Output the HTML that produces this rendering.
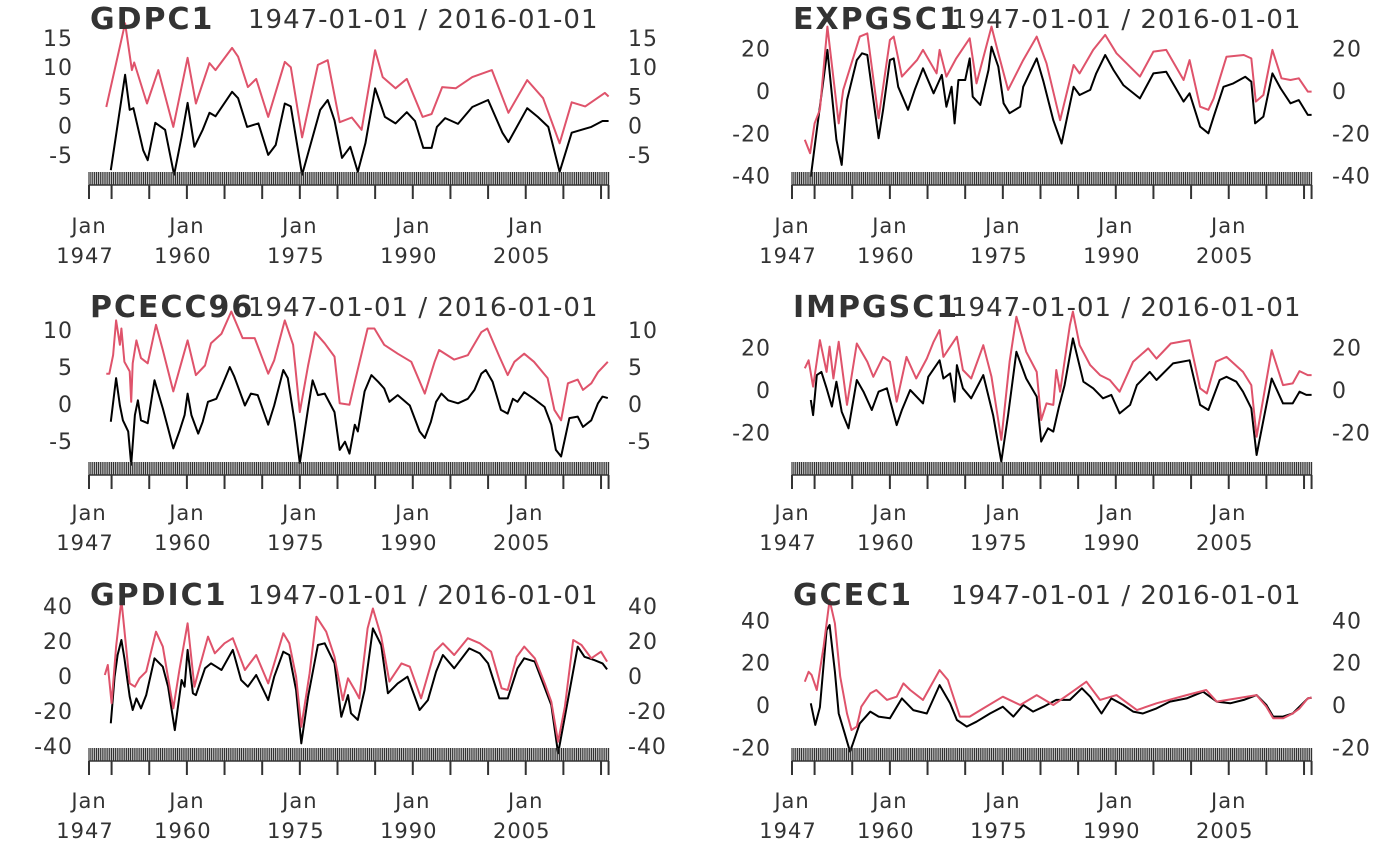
<!DOCTYPE html>
<html><head><meta charset="utf-8">
<style>
html,body{margin:0;padding:0;background:#fff;}
svg{display:block;font-family:"DejaVu Sans","Liberation Sans",sans-serif;}
</style></head>
<body>
<svg id="chart" width="1400" height="865" viewBox="0 0 1400 865" xmlns="http://www.w3.org/2000/svg"></svg>
<script>
// ---- data (year, value) per series ----
const gdpBlackYears=[1949.9,1951.8,1952.4,1952.9,1954.2,1954.8,1955.8,1957.1,1958.3,1959.3,1960.1,1961,1962.1,1963,1963.8,1966,1966.8,1968,1969.5,1970.8,1971.8,1973,1973.8,1975.3,1976.4,1977.7,1978.7,1979.6,1980.6,1981.7,1982.7,1983.7,1985,1986.3,1987.7,1989.2,1990.3,1991.4,1992.5,1993.2,1994.3,1996,1997.9,2000,2001.9,2002.7,2005.2,2006.6,2008,2009.5,2011.1,2013.7,2015.2,2016];
const gdpBlackVals=[-7.6,8.7,2.7,3,-4.2,-5.9,0.5,-0.7,-8.4,-1.9,3.9,-3.6,-0.7,2.2,1.6,5.8,4.7,-0.2,0.4,-5,-3.3,3.8,3.3,-8.4,-3.3,2.7,4.4,0.9,-5.5,-3.6,-7.9,-3,6.4,1.5,0.4,2.3,0.8,-3.8,-3.8,-0.2,1.3,0.3,3.2,4.4,-1.2,-2.8,3,1.5,-0.2,-7.9,-1.2,-0.2,0.8,0.8];
const gdpRedYears=[1949.3,1951.8,1952.7,1953,1954.7,1956.2,1958.2,1960.1,1961.2,1963,1963.8,1966,1966.8,1968.1,1969.2,1970.8,1973,1973.8,1975.3,1977.4,1978.7,1980.3,1981.9,1983.2,1985,1986,1987.7,1989.2,1991.3,1992.5,1993.9,1995.7,1997.9,2000.5,2002.7,2005.2,2007.3,2009.5,2011.1,2012.9,2015.5,2016];
const gdpRedVals=[3.2,17.5,9.5,10.8,3.8,9.5,-0.2,11.6,3.8,10.7,9.5,13.3,11.8,6.6,8,1.5,10.9,10,-2,10.4,11.2,0.6,1.4,-0.7,12.9,8.3,6.4,8,1.5,2,6.6,6.4,8.3,9.5,2.2,7.8,4.7,-3,4,3.3,5.6,5];

const expBlackYears=[1949.5,1950.3,1951.7,1952.9,1953.6,1954.3,1955.6,1956.3,1957,1958.5,1959.1,1960,1960.5,1961.1,1962.4,1963.3,1964.4,1965.8,1966.9,1967.5,1968.2,1968.6,1969.1,1970,1970.6,1971,1972,1973.1,1973.5,1974.4,1975.1,1975.9,1977.3,1977.7,1979.5,1980.4,1981.7,1982.8,1984.4,1985.2,1986.6,1987.4,1988.6,1989.7,1991,1993.2,1995,1996.7,1999,1999.8,2001.2,2002.3,2003,2004.3,2005.6,2007.2,2008,2008.5,2009.6,2010.8,2011.9,2013.2,2014.3,2015.5,2016];
const expBlackVals=[-40.5,-18.4,19.4,-23,-34.9,-4.3,14.6,17.8,17,-22.3,-8.9,14.6,15.4,2,-8.9,0.5,10.7,-1.1,7.6,-7.4,2,-15.3,5.2,5.2,15.4,-2.7,-6.6,9.9,20.9,11.5,-5.8,-10.5,-7.4,2,15.4,4.4,-13.8,-24.8,2,-1.9,0.5,8.3,17,9.9,2.8,-3.5,8.3,9.1,-5,-1.1,-16.8,-20,-12.1,2,3.6,6.7,4.4,-15.3,-12.1,8.3,1.2,-5.8,-4.3,-11.3,-11.3];
const expRedYears=[1948.7,1949.4,1950,1950.7,1951.7,1953.2,1953.8,1954.9,1956,1957,1958.5,1960,1960.5,1961.6,1963.6,1964.4,1966.2,1966.6,1967.5,1968.8,1970.6,1971.5,1973.5,1974.4,1975.7,1977.7,1979.5,1980.8,1982.6,1984.4,1985.2,1987,1988.6,1990.1,1993.2,1995,1996.7,1999,1999.8,2001.2,2002.3,2003,2004.7,2007,2008,2008.6,2009.6,2010.8,2012,2013.2,2014.3,2015.5,2016];
const expRedVals=[-23,-29.4,-15.3,-8.9,30.4,-15.3,0.5,13.1,25.7,27.2,-12.9,24.1,25.7,6.8,14.6,19.4,8.3,19.4,6.8,15.4,24.9,3.6,30.4,17.8,0.5,14.6,25.7,13.1,-13.8,12.3,8.3,19.4,26.5,17.8,6.8,18.6,19.4,5.2,14.6,-7.4,-8.9,-3.5,16.2,17,15.4,-5,-1.9,19.4,6,5.2,6,-0.3,-0.3];

const pceBlackYears=[1949.9,1950.6,1951.1,1951.5,1952.2,1952.6,1953.1,1953.5,1953.9,1954.8,1955.7,1956.8,1957.5,1958.2,1959,1959.7,1960.1,1960.6,1961.5,1962.1,1962.8,1963.9,1964.6,1965.7,1966.3,1967.7,1968.5,1969.4,1970.8,1971.6,1972.8,1973.4,1974.3,1975,1976.1,1976.7,1977.4,1978.3,1979.6,1980.3,1981,1981.6,1982.3,1982.7,1983.6,1984.5,1985.4,1986.2,1986.9,1988,1989.6,1990.9,1991.6,1992.4,1993.1,1993.8,1994.7,1996,1997.3,1998.2,1999.1,1999.7,2000.6,2001.7,2002.6,2003.3,2003.9,2004.8,2006.1,2007.5,2008.4,2009,2009.7,2010.8,2011.9,2012.6,2013.7,2014.6,2015.2,2015.9];
const pceBlackVals=[-2.4,3.5,-0.2,-2.2,-3.7,-8.2,-1.5,0.5,-2.2,-2.6,3.2,-0.6,-3.3,-6,-3.7,-1.5,1.4,-1.5,-4,-2.4,0.3,0.7,2.3,5,3.7,-0.2,1.4,1.2,-2.8,-0.2,4.6,3.5,-2.4,-8,-0.6,3.2,1.2,1.4,-1.1,-6.2,-5.1,-6.7,-2.8,-3.7,1.7,3.9,3,2.1,0.3,1.2,-0.2,-3.7,-4.6,-2.4,0.3,1.4,0.5,0.1,0.7,1.9,4.1,4.6,3,-0.8,-1.3,0.7,0.3,1.6,0.7,-0.4,-2.8,-6.2,-7.1,-1.9,-1.7,-3.1,-2.2,0.1,1,0.8];
const pceRedYears=[1949.3,1949.7,1950.2,1950.6,1951.1,1951.3,1951.7,1952.4,1952.6,1952.8,1953.3,1953.9,1954.8,1955.9,1956.8,1958.2,1959.3,1960.1,1961.2,1962.4,1963.2,1964.6,1965.9,1967.4,1969,1970.8,1971.6,1973,1974.1,1975,1976.1,1977,1978.3,1979.6,1980.3,1981.6,1982.3,1984,1984.9,1986.2,1988,1989.8,1991.6,1992.9,1993.5,1995.5,1997.3,1999.1,1999.9,2001.5,2002.6,2003.5,2004.8,2006.1,2007.9,2008.8,2009.7,2010.6,2011.9,2012.6,2013.7,2014.6,2015.9];
const pceRedVals=[4.1,4.1,6.6,11.3,8,10.2,5.7,4.4,0.3,5.5,8.6,6.2,5.5,10.7,7.3,1.7,5.7,8.6,3.9,5.2,8.2,9.5,12.5,8.9,8.9,4.1,5.9,11.3,8,-1.1,5.2,9.7,8.2,6.4,0.1,-0.1,3,10.2,10.2,8,6.8,5.7,1.4,5.7,7.3,6,6.6,9.7,10.2,6.4,3.9,5.7,6.8,5.7,3.5,-0.8,-2.2,2.8,3.3,1.9,2.8,4.3,5.7];

const impBlackYears=[1949.5,1949.8,1950.3,1950.9,1951.6,1952.3,1952.9,1953.6,1954.5,1955.6,1956.5,1957.6,1958.5,1959.6,1960.9,1961.6,1962.7,1964.4,1965.1,1966.6,1967.1,1968,1968.6,1968.9,1969.7,1970.8,1972.4,1973.7,1974.8,1975.7,1976.8,1978.1,1979.5,1980.1,1981,1981.7,1982.4,1983.2,1984.3,1985.7,1987,1988.3,1989.4,1990.5,1991.9,1992.8,1994.5,1995.4,1997.6,1999.8,2001.2,2002.3,2003.8,2004.7,2006,2006.9,2008,2008.7,2010,2010.7,2012.2,2013.5,2014.4,2015.3,2016];
const impBlackVals=[-4.7,-11.8,7,8.5,0.8,-7.8,3.9,-10.2,-18,4.7,-0.8,-9.4,-0.8,0.8,-16.5,-9.4,0,-6.3,6.2,14,5.4,7.8,-5.5,11.7,0.8,-3.9,7,-11.8,-33.7,-11.8,18,5.4,-3.1,-24.3,-18,-19.6,-8.6,2.3,24.3,3.9,0.8,-3.9,-2.3,-11,-7,2.3,8.5,4.7,12.5,14,-7,-9.4,4.7,6.2,3.9,-0.8,-8.6,-30.6,-7,5.4,-6.3,-6.3,-0.8,-2.3,-2.3];
const impRedYears=[1948.7,1949.2,1949.8,1950.7,1951.6,1952,1952.5,1953.2,1954.3,1955.6,1957,1957.8,1959.1,1960,1960.9,1962.2,1963.5,1964.9,1965.8,1966.6,1967.1,1968.9,1969.7,1970.8,1972.4,1973.5,1974.8,1975.9,1976.8,1978.1,1979.5,1980.1,1980.8,1981.7,1982.1,1982.6,1983.9,1984.3,1985.2,1986.6,1987.9,1989.2,1990.5,1992.3,1994.3,1995.4,1997.3,1999.8,2001.2,2002.1,2003.3,2004.7,2006.9,2008,2008.7,2010.7,2012.2,2013.5,2014.4,2015.5,2016];
const impRedVals=[10.2,14,1.6,23.5,8.5,20.4,5.4,22.7,-7,21.9,13.3,6.2,15.6,13.3,-5.5,15.6,5.4,14.8,22.7,28.2,15.6,25.1,9.4,5.4,21.1,6.2,-23.5,13.3,34.5,18,8.5,-14.1,-6.3,-7,9.4,-0.8,30.6,36.9,21.1,11.7,7,4.7,-0.8,13.3,19.6,14.8,21.9,23.5,0.8,-1.6,13.3,15.6,8.5,2.3,-22,18.8,2.3,3.1,8.9,7,7];

const gpdBlackYears=[1949.9,1950.4,1950.8,1951.3,1951.7,1952.4,1952.8,1953.3,1953.9,1954.6,1955.7,1956.8,1957.5,1958.4,1959.3,1959.7,1960.1,1960.8,1961.2,1962.4,1963.2,1963.9,1964.6,1966.1,1967.2,1968.1,1969.2,1970.8,1971.6,1972.8,1973.6,1974.5,1975.2,1976.1,1977.4,1978.3,1979.6,1980.5,1981.4,1981.8,1982.7,1983.6,1984.7,1985.8,1986.7,1988,1989.3,1990.9,1992,1993.1,1994,1995.5,1997.5,1998.9,2000,2001.5,2002.6,2003.9,2004.8,2006.2,2007.3,2008.4,2009.3,2010.6,2011.9,2012.8,2014.1,2015.2,2015.8];
const gpdBlackVals=[-27,-0.4,12,20.6,10.1,-11.8,-19.4,-12.8,-18.5,-10.9,10.1,5.3,-6.1,-30.9,-2.3,-6.1,14.9,-9.9,-10.9,4.4,7.2,5.3,3.4,14.9,-2.3,-6.1,0.6,-13.8,-0.4,13.9,12,-8,-38.5,-11.8,17.7,18.7,7.2,-23.3,-10.9,-21.3,-25.1,-8,27.2,17.7,-9.9,-4.2,-0.4,-19.4,-13.8,2.5,12,4.4,15.8,12.9,7.2,-12.8,-12.8,4.4,10.1,8.2,-4.2,-16.6,-44.2,-13.8,16.8,11,9.1,7.2,3.8];
const gpdRedYears=[1949.1,1949.5,1950,1950.6,1951.3,1951.7,1952.4,1953.1,1953.7,1954.6,1955.9,1956.8,1958.2,1959,1960.1,1961,1961.7,1962.8,1963.7,1965,1966.1,1967.7,1969.2,1970.8,1972.8,1973.6,1974.5,1975.2,1976.3,1977.2,1978.5,1979.6,1980.7,1981.4,1982.3,1982.9,1984,1984.7,1985.8,1986.9,1988.5,1989.6,1991.1,1992.9,1994,1995.5,1997.3,1998.9,2000.4,2001.8,2002.6,2003.8,2004.8,2006.2,2007.6,2008.4,2009.3,2010.2,2011.3,2012.4,2013.7,2015,2015.8];
const gpdRedVals=[0.6,6.3,-15.6,16.8,43.4,26.3,-4.2,-6.1,-1.3,2.5,25.3,16.8,-18.5,3.4,30.1,-6.1,5.3,22.5,13,18.7,21.6,3.4,12,-4.2,24.4,18.7,-0.4,-29,1.5,33.9,25.3,11,-13.8,-1.3,-8,-12.8,27.2,38.6,22.5,-3.2,7.2,5.3,-12.8,13.9,18.7,12,21.6,18.7,13.9,-7,-8,11,16.8,10.1,-5.1,-14.7,-37.6,-17.5,20.6,17.7,10.1,13.9,8.2];

const gceBlackYears=[1949.5,1950.1,1950.7,1951.6,1952,1952.7,1953.2,1954,1954.7,1955.1,1956,1957.4,1958.5,1960,1961.6,1963.1,1964.9,1966.6,1968,1968.9,1970.2,1971.5,1973.3,1975,1976.4,1977.7,1979,1980.4,1982.1,1983.9,1985.5,1986.6,1988.1,1989.4,1991,1992.3,1993.6,1995.4,1997.2,1999.4,2001.6,2003.4,2005.2,2007,2008.7,2010,2010.9,2012.2,2013.5,2014.4,2015.5,2016];
const gceBlackVals=[0.8,-9.4,-1.1,35.4,37.8,15.7,-4,-13.4,-22,-18.1,-8.7,-3.1,-5.5,-6.3,3.1,-2.4,-4,9.4,0.8,-7.1,-10.2,-7.9,-4,-0.8,-5.5,0,-3.1,-0.8,2.4,2.4,7.9,3.9,-4,3.1,0,-3.1,-4,-1.6,1.6,3.1,6.3,1.6,0.8,2.4,4.7,0,-5.5,-5.5,-4,-0.8,3.1,3.5];
const gceRedYears=[1948.7,1949.2,1949.6,1950.3,1951.2,1952,1952.7,1953.4,1954.3,1954.9,1955.6,1956.2,1957.4,1958.2,1959.6,1960.9,1961.8,1962.7,1964.4,1966.6,1967.7,1969.3,1970.6,1972.4,1975,1977.3,1979.5,1981.7,1983.9,1986.1,1987.9,1990.1,1992.8,1995.4,1999.4,2002,2003.4,2008.7,2010,2010.9,2012.2,2013.5,2014.4,2015.5,2016];
const gceRedVals=[11,15.7,14.2,7.1,27.6,49.6,38.6,13.4,-4,-11.8,-10.2,-0.8,5.5,7.1,2.4,3.9,10.2,7.1,2.4,16.5,11.8,-5.5,-5.5,-1.6,3.9,0,4.7,0,5.5,11,2.4,4.7,-2.4,0.8,4.7,7.1,1.6,4.7,-0.8,-6.3,-6.3,-4,-1.6,3.1,3.5];

const tickYearsMajor=[1947,1950,1955,1960,1965,1970,1975,1980,1985,1990,1995,2000,2005,2010,2015,2016];
const labelYears=[1947,1960,1975,1990,2005];

// ---- panel layout (positions/styles) ----
const panels=[
 {name:'gdpc1',title:'GDPC1',x0:89,zero:125.7,ppu:5.85,ticks:[-5,0,5,10,15],rug:172,titleY:29,labY:233,lx:72,rx:628,b:[gdpBlackYears,gdpBlackVals],r:[gdpRedYears,gdpRedVals]},
 {name:'expgsc1',title:'EXPGSC1',x0:792,zero:91,ppu:2.117,ticks:[-40,-20,0,20],rug:172,titleY:29,labY:233,lx:770,rx:1332,b:[expBlackYears,expBlackVals],r:[expRedYears,expRedVals]},
 {name:'pcecc96',title:'PCECC96',x0:89,zero:404,ppu:7.4,ticks:[-5,0,5,10],rug:462,titleY:317,labY:520,lx:72,rx:628,b:[pceBlackYears,pceBlackVals],r:[pceRedYears,pceRedVals]},
 {name:'impgsc1',title:'IMPGSC1',x0:792,zero:390,ppu:2.125,ticks:[-20,0,20],rug:462,titleY:317,labY:520,lx:770,rx:1332,b:[impBlackYears,impBlackVals],r:[impRedYears,impRedVals]},
 {name:'gpdic1',title:'GPDIC1',x0:89,zero:676,ppu:1.75,ticks:[-40,-20,0,20,40],rug:748,titleY:605,labY:808,lx:72,rx:628,b:[gpdBlackYears,gpdBlackVals],r:[gpdRedYears,gpdRedVals]},
 {name:'gcec1',title:'GCEC1',x0:792,zero:705,ppu:2.117,ticks:[-20,0,20,40],rug:748,titleY:605,labY:808,lx:770,rx:1332,b:[gceBlackYears,gceBlackVals],r:[gceRedYears,gceRedVals]}
];
const PXY=7.53;
const NS='http://www.w3.org/2000/svg';
const svg=document.getElementById('chart');
function mk(tag,attrs,parent){const e=document.createElementNS(NS,tag);for(const k in attrs)e.setAttribute(k,attrs[k]);(parent||svg).appendChild(e);return e;}

panels.forEach((p,pi)=>{
  const xs=y=>p.x0+(y-1947)*PXY;
  const ys=v=>p.zero-v*p.ppu;
  const g=mk('g',{});
  
  
  const clip=mk('clipPath',{id:'clip'+pi},g);
  mk('rect',{x:p.x0-2,y:0,width:(2016-1947)*PXY+4,height:865},clip);
  [['b','#000000','black'],['r','#DF536B','red']].forEach(([k,col,nm])=>{
    const yrs=p[k][0],vals=p[k][1];
    let d='';
    yrs.forEach((yy,i)=>{d+=(i?'L':'M')+xs(yy).toFixed(1)+','+ys(vals[i]).toFixed(1);});
    const path=mk('path',{d:d,fill:'none',stroke:col,'stroke-width':2,'stroke-linejoin':'round'},g);
    
    
  });
  let rd='';
  for(let q=0;q<=69*4;q++){const x=xs(1947+q/4);rd+='M'+x.toFixed(2)+','+p.rug+'V'+(p.rug+13);}
  const rug=mk('path',{d:rd,stroke:'#333',"stroke-width":1.2,fill:'none'},g);
  
  
  const ax=mk('line',{x1:xs(1947),x2:xs(2016),y1:p.rug+13,y2:p.rug+13,stroke:'#333','stroke-width':1.5},g);
  
  
  tickYearsMajor.forEach(yy=>{
    const t=mk('line',{x1:xs(yy),x2:xs(yy),y1:p.rug+13,y2:p.rug+27,stroke:'#333','stroke-width':2},g);
    
    
  });
  labelYears.forEach(yy=>{
    const t1=mk('text',{x:xs(yy),y:p.labY,'text-anchor':'middle','font-size':21,'letter-spacing':1,fill:'#333'},g);
    t1.textContent='Jan';
    
    
    const t2=mk('text',{x:xs(yy)-4,y:p.labY+30,'text-anchor':'middle','font-size':21,'letter-spacing':1,fill:'#333'},g);
    t2.textContent=String(yy);
    
    
  });
  p.ticks.forEach(v=>{
    const a=mk('text',{x:p.lx+1,y:ys(v)+8,'text-anchor':'end','font-size':22,'letter-spacing':1,fill:'#333'},g);
    a.textContent=String(v);
    
    
    const b=mk('text',{x:p.rx,y:ys(v)+8,'text-anchor':'start','font-size':22,'letter-spacing':1,fill:'#333'},g);
    b.textContent=String(v);
    
    
  });
  const tt=mk('text',{x:p.x0+1,y:p.titleY,'font-size':30,'font-weight':'bold','letter-spacing':2,fill:'#333'},g);
  tt.textContent=p.title;
  
  
  const dr=mk('text',{x:p.x0+159,y:p.titleY-1,'font-size':26,'letter-spacing':1,fill:'#333','clip-path':'url(#clip'+pi+')'},g);
  dr.textContent='1947-01-01 / 2016-01-01';
  
  
});
</script>
</body></html>
